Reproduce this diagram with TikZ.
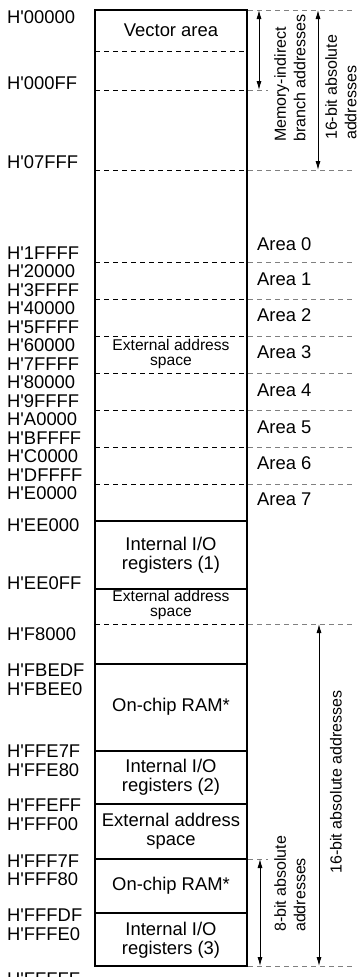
\documentclass[tikz,border=0pt]{standalone}
\usepackage{fontspec}
\setmainfont{Liberation Sans}
\usetikzlibrary{arrows.meta}

\newcommand{\bigfont}{\fontsize{18.4}{19.5}\selectfont}
\newcommand{\smallfont}{\fontsize{15.6}{14.5}\selectfont}
\newcommand{\sidefont}{\fontsize{16}{19.5}\selectfont}

\tikzstyle{addr} = [anchor=west, inner sep=0pt, font=\bigfont]
\tikzstyle{region} = [inner sep=0pt, align=center, font=\bigfont]
\tikzstyle{smallregion} = [inner sep=0pt, align=center, font=\smallfont]
\tikzstyle{arealabel} = [anchor=west, inner sep=0pt, font=\bigfont]
\tikzstyle{sidelabel} = [rotate=90, anchor=west, inner sep=0pt, align=left, font=\sidefont]
\tikzstyle{boundary} = [line width=1.3pt]
\tikzstyle{divline} = [line width=0.9pt, dash pattern=on 5pt off 4pt]
\tikzstyle{guide} = [line width=0.9pt, black!50, dash pattern=on 5pt off 4pt]
\tikzstyle{dimarrow} = [line width=0.9pt, {Latex[length=9pt,width=5pt]}-{Latex[length=9pt,width=5pt]}]

\begin{document}
\begin{tikzpicture}[x=1pt, y=-1pt]
        \useasboundingbox (0,0) rectangle (362,977);

        % address column
        \foreach \a/\y in {00000/17, 000FF/83, 07FFF/162, 1FFFF/253, 20000/271,
                3FFFF/290, 40000/308, 5FFFF/327, 60000/345, 7FFFF/364, 80000/382,
                9FFFF/401, A0000/419, BFFFF/438, C0000/456, DFFFF/475, E0000/493,
                EE000/525, EE0FF/583, F8000/634, FBEDF/670, FBEE0/689, FFE7F/751,
                FFE80/770, FFEFF/805, FFF00/824, FFF7F/861, FFF80/879, FFFDF/915,
                FFFE0/934, FFFFF/979}
            \node[addr] (a\a) at (7,\y) {H\textquotesingle\a};

        % map outline and dividers
        \draw[boundary] (95,10) rectangle (247,966);
        \foreach \y in {521, 589, 664, 751, 804, 859, 913}
            \draw[boundary] (95,\y) -- (247,\y);
        \foreach \y in {51, 90, 170, 262, 299, 336, 373, 410, 447, 484, 624}
            \draw[divline] (95,\y) -- (247,\y);

        % guide lines to the right
        \foreach \y in {10, 170, 262, 299, 336, 373, 410, 447, 484, 624, 966}
            \draw[guide] (248,\y) -- (353,\y);
        \foreach \y in {90, 859}
            \draw[guide] (248,\y) -- (268,\y);

        % region names
        \node[region] (vec) at (171,30) {Vector area};
        \node[smallregion] (ext1) at (171,354) {External address\\space};
        \node[region] (io1) at (171,555) {Internal I/O\\registers (1)};
        \node[smallregion] (ext2) at (171,605) {External address\\space};
        \node[region] (ram1) at (171,707) {On-chip RAM*};
        \node[region] (io2) at (171,777) {Internal I/O\\registers (2)};
        \node[region] (ext3) at (171,831) {External address\\space};
        \node[region] (ram2) at (171,886) {On-chip RAM*};
        \node[region] (io3) at (171,940) {Internal I/O\\registers (3)};

        \foreach \n/\y in {0/244, 1/279, 2/315, 3/352, 4/390, 5/427, 6/463, 7/499}
            \node[arealabel] (area\n) at (257,\y) {Area \n};

        % address range arrows
        \coordinate (mtop) at (259,10);
        \coordinate (mbot) at (259,90);
        \coordinate (stop) at (318,10);
        \coordinate (sbot) at (318,170);
        \coordinate (ltop) at (319,624);
        \coordinate (lbot) at (319,966);
        \coordinate (etop) at (260,859);
        \coordinate (ebot) at (260,966);
        \draw[dimarrow] (mtop) -- (mbot);
        \draw[dimarrow] (stop) -- (sbot);
        \draw[dimarrow] (ltop) -- (lbot);
        \draw[dimarrow] (etop) -- (ebot);

        \node[sidelabel] (mind) at (290,142) {Memory-indirect\\branch addresses};
        \node[sidelabel] (abs16a) at (341,140) {16-bit absolute\\addresses};
        \node[sidelabel, anchor=center] (abs16b) at (336,782) {16-bit absolute addresses};
        \node[sidelabel] (abs8) at (290,932) {8-bit absolute\\addresses};
\end{tikzpicture}
\end{document}
